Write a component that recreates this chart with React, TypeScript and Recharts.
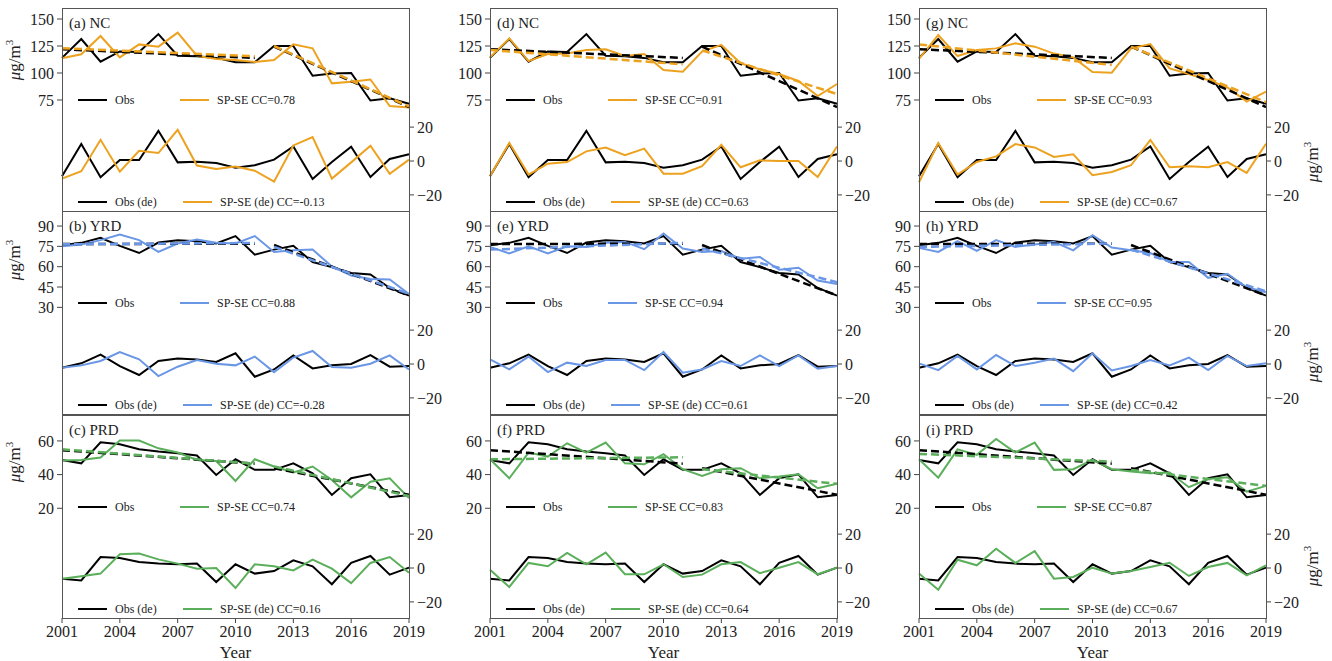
import React from "react";
import { LineChart, Line, XAxis, YAxis } from "recharts";

const FONT = "'Liberation Serif', 'Times New Roman', serif";
const ORANGE = "#EDA21F";
const BLUE = "#6A96E6";
const GREEN = "#5BAF5B";

const YEARS = [2001, 2002, 2003, 2004, 2005, 2006, 2007, 2008, 2009, 2010, 2011, 2012, 2013, 2014, 2015, 2016, 2017, 2018, 2019];
const X_TICKS = [2001, 2004, 2007, 2010, 2013, 2016, 2019];
// trend segments: first period and second period
const SEGMENTS = [[2001, 2011], [2012, 2019]];

// ---- NC ----
const NC_OBS = [114, 131.5, 110.5, 120, 119.5, 136, 116, 115.5, 114, 110, 110, 125, 125, 97.5, 99.5, 100, 74.5, 76.5, 71.5];
const NC_OBS_DE = [-9, 10, -9.6, 0.6, 0.6, 17.8, -0.8, -0.4, -1.2, -4, -2.5, 0.8, 8.6, -10.6, -0.6, 8.4, -9.4, 1.2, 4];
const NC_OBS_TREND = [[122, 114], [124.5, 68.5]];

const NC_SP_A = [113.6, 117.3, 134.3, 114.5, 126.5, 124.4, 137.3, 116, 113, 112, 110.2, 112, 126.5, 122.8, 90.4, 92, 94, 69.4, 68];
const NC_SP_A_DE = [-10.4, -6, 12.5, -6.3, 6, 4.7, 18.4, -2.7, -4.7, -3.3, -5.7, -12.2, 9.2, 14.1, -10.4, -0.8, 9, -7.5, 0.8];
const NC_SP_A_TREND = [[123, 115.5], [125, 69]];

const NC_SP_D = [114.5, 132, 111, 117.6, 118, 121.3, 122, 115.7, 117.6, 102.8, 101.2, 119.8, 126, 109, 103.4, 99, 92.6, 78.7, 89.8];
const NC_SP_D_DE = [-9, 10.6, -8, -1.6, -0.6, 5.7, 8, 3.5, 7.3, -7.5, -7.5, -3.1, 9.6, -3.7, 0.4, 0, 0, -9.4, 8.6];
const NC_SP_D_TREND = [[121.3, 108], [121, 80.5]];

const NC_SP_G = [113, 135.2, 115.7, 121.3, 122.8, 127.5, 124.4, 118, 114.5, 101, 100.3, 122.8, 126.8, 104.3, 99, 93.5, 86.7, 73.5, 82.7];
const NC_SP_G_DE = [-12.5, 10.6, -8, -0.6, 2.7, 10, 8, 2.4, 4, -8.4, -6.5, -2.5, 12.5, -3.7, -3.1, -3.7, -0.6, -7, 10.2];
const NC_SP_G_TREND = [[126.5, 107.5], [124.4, 73]];

// ---- YRD ----
const YRD_OBS = [75.8, 77.6, 81.3, 75.4, 70.1, 77.8, 79.6, 78.8, 77.1, 82.6, 68.9, 72.6, 75.4, 63.4, 59.7, 55.3, 54.3, 44.3, 38.6];
const YRD_OBS_DE = [-2.2, 0.4, 5.5, -1.2, -6.5, 1.8, 3.2, 2.6, 1.2, 6.3, -7.5, -3.2, 5.1, -2.6, -0.8, 0, 5.3, -1.6, -1.2];
const YRD_OBS_TREND = [[76.7, 77], [76, 38.8]];

const YRD_SP_B = [75.1, 76.3, 79.6, 83.8, 79.6, 70.9, 77.1, 80, 77.6, 77.1, 82.6, 70.9, 72.1, 72.6, 60.2, 53.5, 51, 50.5, 39.8];
const YRD_SP_B_DE = [-2.2, -0.8, 1.8, 7.1, 2.8, -7.1, -1.6, 2.4, 0.2, -0.8, 4.4, -4.8, 3.8, 7.7, -1.8, -2.2, 0.2, 5.1, -3.2];
const YRD_SP_B_TREND = [[76.5, 77.5], [74.6, 40]];

const YRD_SP_E = [74.6, 69.7, 75.1, 69.7, 75.1, 74.6, 77.6, 78.3, 72.9, 84.5, 73.4, 70.9, 71.6, 65.9, 67.2, 57.7, 59.2, 49.8, 47.3];
const YRD_SP_E_DE = [2.8, -3.2, 4.4, -4.8, 0.8, -1.2, 2.4, 2.4, -3.6, 7.1, -5.1, -3.2, 1.8, -1.2, 5.1, -1.2, 5.1, -2.8, -1.2];
const YRD_SP_E_TREND = [[72.6, 77.6], [73.4, 48.6]];

const YRD_SP_H = [73.9, 70.9, 78.8, 71.6, 79.6, 74.6, 76.3, 78.3, 72.1, 83.3, 74.1, 72.1, 70.1, 63.4, 63.4, 51.8, 54.8, 44.8, 41.1];
const YRD_SP_H_DE = [0.4, -3.6, 4.8, -3.2, 5.3, -1.2, 0.8, 3.2, -4.2, 6.3, -3.8, -1.2, 2.4, -0.8, 3.8, -3.6, 4.8, -1.2, 0.4];
const YRD_SP_H_TREND = [[74.6, 77.1], [72.6, 41.9]];

// ---- PRD ----
const PRD_OBS = [48.7, 46.7, 59.2, 58, 55, 53.7, 52.7, 51.3, 39.8, 49.1, 42.8, 42.8, 46.7, 40.8, 27.9, 37.8, 40.2, 26.5, 27.9];
const PRD_OBS_DE = [-6.3, -7.3, 6.5, 5.9, 3.5, 2.6, 2.2, 2.6, -8.3, 2.2, -3.3, -1.8, 4.5, 1, -9.6, 3, 7.1, -3.9, 0.2];
const PRD_OBS_TREND = [[54.5, 46.5], [43.8, 28]];

const PRD_SP_C = [48.3, 48.7, 50.1, 60.2, 60.2, 55.6, 53.1, 48.7, 48.1, 36.2, 49.1, 44.8, 41.2, 44.8, 36.8, 26.5, 35.8, 37.8, 26];
const PRD_SP_C_DE = [-6.3, -4.9, -3.3, 8.1, 8.5, 5.1, 2.6, -0.4, 0, -11.8, 2.2, 1, -1.4, 4.9, -0.4, -8.9, 3, 6.5, -2.8];
const PRD_SP_C_TREND = [[55, 46.5], [44.8, 27.3]];

const PRD_SP_F = [49.1, 37.8, 53.1, 50.7, 58.6, 53.1, 59, 46.7, 46.1, 52.1, 43.2, 39.2, 43.2, 43.8, 37.8, 38.8, 40.2, 31.9, 34.5];
const PRD_SP_F_DE = [-1, -11.2, 3, 1, 8.9, 2.2, 9.1, -3.7, -3.7, 2.2, -5.3, -3.9, 2.2, 3.5, -3, 0.2, 3.5, -3.7, 0.2];
const PRD_SP_F_TREND = [[49.1, 50.3], [43.2, 34.5]];

const PRD_SP_I = [49.1, 38.2, 55, 51.7, 61.2, 53.1, 59, 42.8, 43.2, 48.7, 43.2, 41.8, 40.8, 41.2, 32.5, 37.4, 38.4, 29.9, 33.3];
const PRD_SP_I_DE = [-3.3, -12.8, 4.9, 1.6, 11.4, 3, 10, -6.3, -5.3, 0.2, -3.3, -1.8, 0.6, 3.1, -4.7, 0.6, 3, -4.3, 1.6];
const PRD_SP_I_TREND = [[52.3, 47.7], [42.8, 33.3]];

const REGIONS = [
  { name: "NC", color: ORANGE, obs: NC_OBS, obsDe: NC_OBS_DE, obsTrend: NC_OBS_TREND, domain: [-27.8, 160.2], ticks: [75, 100, 125, 150] },
  { name: "YRD", color: BLUE, obs: YRD_OBS, obsDe: YRD_OBS_DE, obsTrend: YRD_OBS_TREND, domain: [-48.7, 101.1], ticks: [30, 45, 60, 75, 90] },
  { name: "PRD", color: GREEN, obs: PRD_OBS, obsDe: PRD_OBS_DE, obsTrend: PRD_OBS_TREND, domain: [-45.2, 75.4], ticks: [20, 40, 60] },
];

// rows = regions, columns = experiments
const SIMS = [
  [
    { letter: "a", sp: NC_SP_A, spDe: NC_SP_A_DE, spTrend: NC_SP_A_TREND, cc: "0.78", ccDe: "-0.13" },
    { letter: "d", sp: NC_SP_D, spDe: NC_SP_D_DE, spTrend: NC_SP_D_TREND, cc: "0.91", ccDe: "0.63" },
    { letter: "g", sp: NC_SP_G, spDe: NC_SP_G_DE, spTrend: NC_SP_G_TREND, cc: "0.93", ccDe: "0.67" },
  ],
  [
    { letter: "b", sp: YRD_SP_B, spDe: YRD_SP_B_DE, spTrend: YRD_SP_B_TREND, cc: "0.88", ccDe: "-0.28" },
    { letter: "e", sp: YRD_SP_E, spDe: YRD_SP_E_DE, spTrend: YRD_SP_E_TREND, cc: "0.94", ccDe: "0.61" },
    { letter: "h", sp: YRD_SP_H, spDe: YRD_SP_H_DE, spTrend: YRD_SP_H_TREND, cc: "0.95", ccDe: "0.42" },
  ],
  [
    { letter: "c", sp: PRD_SP_C, spDe: PRD_SP_C_DE, spTrend: PRD_SP_C_TREND, cc: "0.74", ccDe: "0.16" },
    { letter: "f", sp: PRD_SP_F, spDe: PRD_SP_F_DE, spTrend: PRD_SP_F_TREND, cc: "0.83", ccDe: "0.64" },
    { letter: "i", sp: PRD_SP_I, spDe: PRD_SP_I_DE, spTrend: PRD_SP_I_TREND, cc: "0.87", ccDe: "0.67" },
  ],
];

const COL_LEFT = [62, 490, 919];
const ROW_TOP = [8, 211, 415];
const W = 347;
const H = 203;
const AX = 50;
const XH = 32;
const DE_DOMAIN = [-29.5, 90.3];

const minus = (v: number) => (v < 0 ? `\u2212${-v}` : `${v}`);
const tickStyle = { fill: "#222", fontSize: 16, fontFamily: FONT };

function buildRows(region: any, sim: any) {
  return YEARS.map((year, i) => {
    const row: any = {
      year,
      obs: region.obs[i],
      obsDe: region.obsDe[i],
      sp: sim.sp[i],
      spDe: sim.spDe[i],
    };
    SEGMENTS.forEach(([a, b], k) => {
      if (year === a) {
        row[`obsT${k}`] = region.obsTrend[k][0];
        row[`spT${k}`] = sim.spTrend[k][0];
      }
      if (year === b) {
        row[`obsT${k}`] = region.obsTrend[k][1];
        row[`spT${k}`] = sim.spTrend[k][1];
      }
    });
    return row;
  });
}

function LegendItem({ x, y, color, text }: any) {
  return (
    <div
      style={{
        position: "absolute",
        left: x,
        top: y - 8,
        height: 16,
        display: "flex",
        alignItems: "center",
        whiteSpace: "nowrap",
        fontSize: 12,
        color: "#222",
      }}
    >
      <span style={{ display: "inline-block", width: 29, height: 2.5, background: color, marginRight: 8 }} />
      <span>{text}</span>
    </div>
  );
}

function Unit({ cx, cy }: { cx: number; cy: number }) {
  return (
    <div
      style={{
        position: "absolute",
        left: cx - 40,
        top: cy - 10,
        width: 80,
        height: 20,
        lineHeight: "20px",
        textAlign: "center",
        fontSize: 17,
        color: "#222",
        transform: "rotate(-90deg)",
      }}
    >
      <i>μ</i>g/m<span style={{ fontSize: 11, position: "relative", top: -7 }}>3</span>
    </div>
  );
}

function Panel({ r, c }: { r: number; c: number }) {
  const region = REGIONS[r];
  const sim = SIMS[r][c];
  const left = COL_LEFT[c];
  const top = ROW_TOP[r];
  const bottomRow = r === 2;
  const rows = buildRows(region, sim);
  const common = { dot: false, isAnimationActive: false, type: "linear" as const };

  return (
    <>
      <div style={{ position: "absolute", left: left - AX, top }}>
        <LineChart
          width={W + 2 * AX}
          height={H + (bottomRow ? XH : 0)}
          data={rows}
          margin={{ top: 0, right: 0, left: 0, bottom: 0 }}
        >
          <XAxis
            dataKey="year"
            type="number"
            domain={[2001, 2019]}
            ticks={X_TICKS}
            interval={0}
            hide={!bottomRow}
            height={XH}
            axisLine={false}
            tickSize={5}
            tickMargin={3}
            tickLine={{ stroke: "#444" }}
            tick={tickStyle}
          />
          <YAxis
            yAxisId="up"
            orientation="left"
            width={AX}
            type="number"
            domain={region.domain}
            ticks={region.ticks}
            interval={0}
            allowDataOverflow
            axisLine={false}
            tickSize={5}
            tickMargin={3}
            tickLine={{ stroke: "#444" }}
            tick={tickStyle}
          />
          <YAxis
            yAxisId="de"
            orientation="right"
            width={AX}
            type="number"
            domain={DE_DOMAIN}
            ticks={[-20, 0, 20]}
            interval={0}
            allowDataOverflow
            axisLine={false}
            tickSize={5}
            tickMargin={3}
            tickLine={{ stroke: "#444" }}
            tick={tickStyle}
            tickFormatter={minus}
          />
          <Line {...common} yAxisId="up" dataKey="obs" stroke="#000" strokeWidth={2} />
          <Line {...common} yAxisId="up" dataKey="sp" stroke={region.color} strokeWidth={2} />
          <Line {...common} yAxisId="de" dataKey="obsDe" stroke="#000" strokeWidth={2} />
          <Line {...common} yAxisId="de" dataKey="spDe" stroke={region.color} strokeWidth={2} />
          {SEGMENTS.map((_, k) => (
            <Line key={`o${k}`} {...common} yAxisId="up" dataKey={`obsT${k}`} stroke="#000" strokeWidth={2.5} strokeDasharray="8 4" connectNulls />
          ))}
          {SEGMENTS.map((_, k) => (
            <Line key={`s${k}`} {...common} yAxisId="up" dataKey={`spT${k}`} stroke={region.color} strokeWidth={2.5} strokeDasharray="8 4" connectNulls />
          ))}
        </LineChart>
      </div>
      <div
        style={{
          position: "absolute",
          left,
          top,
          width: W + 1,
          height: H + 1,
          border: "1px solid #555",
          boxSizing: "border-box",
          pointerEvents: "none",
        }}
      />
      <div style={{ position: "absolute", left: left + 7, top: top + 8, fontSize: 15, lineHeight: "15px", color: "#222" }}>
        ({sim.letter}) {region.name}
      </div>
      <LegendItem x={left + 16} y={top + 92} color="#000" text="Obs" />
      <LegendItem x={left + 118} y={top + 92} color={region.color} text={`SP-SE CC=${sim.cc}`} />
      <LegendItem x={left + 16} y={top + 194} color="#000" text="Obs (de)" />
      <LegendItem x={left + 121} y={top + 194} color={region.color} text={`SP-SE (de) CC=${sim.ccDe}`} />
    </>
  );
}

export default function App() {
  return (
    <div
      style={{
        position: "absolute",
        left: 0,
        top: 0,
        width: 1332,
        height: 661,
        background: "#fff",
        overflow: "hidden",
        fontFamily: FONT,
      }}
    >
      <style>{`.recharts-wrapper text { font-family: ${FONT}; }`}</style>
      {[0, 1, 2].map((r) => [0, 1, 2].map((c) => <Panel key={`${r}-${c}`} r={r} c={c} />))}
      {[0, 1, 2].map((r) => (
        <Unit key={`ul${r}`} cx={15} cy={[60, 260, 462][r]} />
      ))}
      {[0, 1, 2].map((r) => (
        <Unit key={`ur${r}`} cx={1313} cy={[162, 362, 566][r]} />
      ))}
      {COL_LEFT.map((l, c) => (
        <div
          key={`yl${c}`}
          style={{ position: "absolute", left: l, top: 643, width: W, textAlign: "center", fontSize: 17, color: "#222" }}
        >
          Year
        </div>
      ))}
    </div>
  );
}
